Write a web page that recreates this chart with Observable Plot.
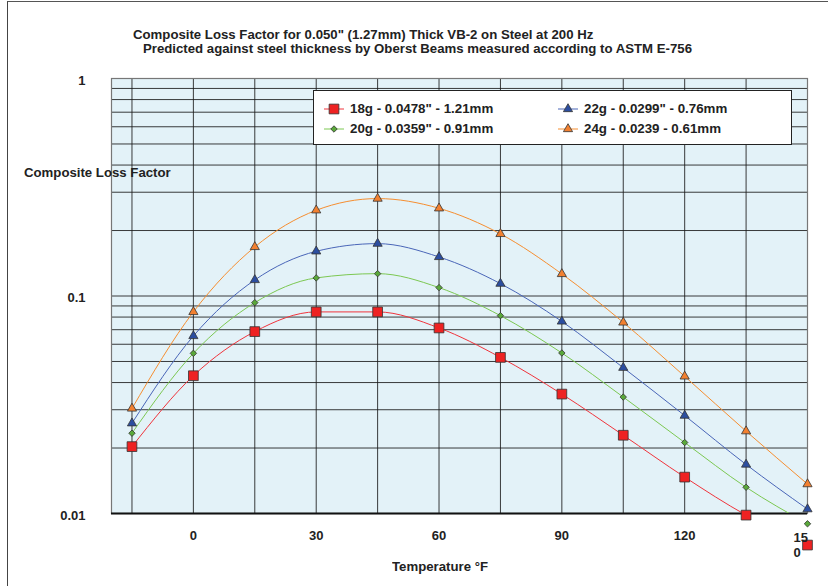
<!DOCTYPE html>
<html><head><meta charset="utf-8">
<script src="https://cdn.jsdelivr.net/npm/d3@7"></script>
<script src="https://cdn.jsdelivr.net/npm/@observablehq/plot@0.6"></script>
<style>
body{margin:0;background:#fff;}
#wrap{position:relative;width:828px;height:586px;overflow:hidden;background:#fff;font-family:"Liberation Sans",Arial,sans-serif;font-weight:bold;color:#222;}
#frame{position:absolute;left:7px;top:1px;width:900px;height:700px;border-left:1.5px solid #444;border-top:1.5px solid #555;}
.t{position:absolute;white-space:nowrap;font-size:12px;line-height:14px;transform:scaleX(1.1);transform-origin:0 50%;}
#chart{position:absolute;left:0;top:0;}
#legend{position:absolute;left:313px;top:90px;width:477px;height:53px;background:#fff;border:1px solid #222;}
.li{position:absolute;white-space:nowrap;font-size:12px;line-height:14px;transform:scaleX(1.11);transform-origin:0 50%;}
.lm{position:absolute;}
</style>
</head><body>
<div id="wrap">
  <div id="frame"></div>
  <div id="chart"></div>
  <div class="t" id="title1" style="left:133px;top:28px;">Composite Loss Factor for 0.050" (1.27mm) Thick VB-2 on Steel at 200 Hz</div>
  <div class="t" id="title2" style="left:143px;top:42px;">Predicted against steel thickness by Oberst Beams measured according to ASTM E-756</div>
  <div class="t" id="ylab" style="left:24px;top:166px;">Composite Loss Factor</div>
  <div class="t" id="xlab" style="left:392px;top:560px;">Temperature °F</div>
  <div id="legend"></div>
</div>
<script>
const temps = [-15, 0, 15, 30, 45, 60, 75, 90, 105, 120, 135, 150];
const g18 = [0.0203, 0.0430, 0.0686, 0.0845, 0.0845, 0.0713, 0.0522, 0.0354, 0.0229, 0.0147, 0.00983, 0.00716];
const g20 = [0.0234, 0.0545, 0.0932, 0.1211, 0.1267, 0.1093, 0.0812, 0.0547, 0.0343, 0.0212, 0.0132, 0.00897];
const g22 = [0.0260, 0.0655, 0.1185, 0.1605, 0.1741, 0.1512, 0.1140, 0.0764, 0.0468, 0.0282, 0.0168, 0.01047];
const g24 = [0.0304, 0.0845, 0.1681, 0.2478, 0.2805, 0.2531, 0.1930, 0.1263, 0.0756, 0.0427, 0.0239, 0.01365];

const seriesNames = ['18g - 0.0478" - 1.21mm', '20g - 0.0359" - 0.91mm', '22g - 0.0299" - 0.76mm', '24g - 0.0239 - 0.61mm'];
const seriesValues = [g18, g20, g22, g24];
const lineColors = ["#f0343c", "#7cc852", "#4a66b8", "#f68e30"];
const markerFills = ["#ee2222", "#5aa83a", "#2c4ea0", "#f28030"];
const markerSymbols = ["square", "diamond2", "triangle", "triangle"];
const markerR = [5.5, 2.9, 3.4, 3.4];

const xTicks = [0, 30, 60, 90, 120];
const xLastTick = [150];
const xGrid = [-15, 0, 15, 30, 45, 60, 75, 90, 105, 120, 135, 150];
const yTicks = [0.01, 0.1, 1];
const yTickLabels = ["0.01", "0.1", "1"];
const yGrid = [0.01,0.02,0.03,0.04,0.05,0.06,0.07,0.08,0.09,0.1,0.2,0.3,0.4,0.5,0.6,0.7,0.8,0.9,1];

const marks = [
  Plot.frame({fill: "#e3f2f8", stroke: null}),
  Plot.ruleX(xGrid, {stroke: "#1a1a1a", strokeWidth: 1, strokeOpacity: 0.85}),
  Plot.ruleY(yGrid, {stroke: "#1a1a1a", strokeWidth: 1, strokeOpacity: 0.85}),
  Plot.frame({stroke: "#777", strokeWidth: 1.2}),
  Plot.ruleY([0.01], {stroke: "#111", strokeWidth: 2})
];
seriesValues.forEach((vals, i) => {
  const data = temps.map((t, j) => ({t, v: vals[j]}));
  marks.push(Plot.line(data, {x: "t", y: "v", stroke: lineColors[i], strokeWidth: 1, curve: "monotone-x", clip: true}));
});
seriesValues.forEach((vals, i) => {
  const data = temps.map((t, j) => ({t, v: vals[j]}));
  marks.push(Plot.dot(data, {x: "t", y: "v", symbol: () => markerSymbols[i], r: markerR[i], fill: markerFills[i], stroke: "#333", strokeWidth: 0.8}));
});
marks.push(Plot.axisX(xTicks, {tickSize: 0, tickPadding: 17, fontSize: 13, fontWeight: "bold", fill: "#222", label: null}));
marks.push(Plot.axisX(xLastTick, {tickSize: 0, tickPadding: 17, tickFormat: d => "15\n0", lineHeight: 1.2, textAnchor: "start", dx: -14, fontSize: 13, fontWeight: "bold", fill: "#222", label: null}));
marks.push(Plot.axisY(yTicks, {tickSize: 0, tickPadding: 26, tickFormat: d => yTickLabels[yTicks.indexOf(d)], dy: 2, fontSize: 13, fontWeight: "bold", fill: "#222", label: null}));

const chart = Plot.plot({
  width: 828, height: 586,
  marginLeft: 111, marginRight: 21, marginTop: 78, marginBottom: 73,
  x: {domain: [-20, 150]},
  y: {type: "log", domain: [0.01, 1]},
  symbol: {range: ["square", "diamond2", "triangle"], domain: ["square", "diamond2", "triangle"]},
  style: {fontFamily: '"Liberation Sans", Arial, sans-serif', fontSize: "13px", fontWeight: "bold", background: "transparent", overflow: "visible", color: "#222"},
  marks
});
document.getElementById("chart").appendChild(chart);

// legend
const legend = document.getElementById("legend");
const layout = [[0, 20, 18], [1, 20, 38], [2, 254, 18], [3, 254, 38]];
const symMap = {square: d3.symbolSquare, diamond2: d3.symbolDiamond2, triangle: d3.symbolTriangle};
layout.forEach(([i, x, y]) => {
  const svg = d3.create("svg").attr("width", 22).attr("height", 14).attr("class", "lm")
    .style("left", (x - 11) + "px").style("top", (y - 7) + "px");
  svg.append("line").attr("x1", 1).attr("x2", 21).attr("y1", 7).attr("y2", 7).attr("stroke", lineColors[i]).attr("stroke-width", 1);
  svg.append("path").attr("transform", "translate(11,7)")
    .attr("d", d3.symbol(symMap[markerSymbols[i]], markerR[i] * markerR[i] * Math.PI)())
    .attr("fill", markerFills[i]).attr("stroke", "#333").attr("stroke-width", 0.8);
  legend.appendChild(svg.node());
  const lab = document.createElement("div");
  lab.className = "li";
  lab.style.left = (x + 16) + "px";
  lab.style.top = (y - 7) + "px";
  lab.textContent = seriesNames[i];
  legend.appendChild(lab);
});
</script>
</body></html>
